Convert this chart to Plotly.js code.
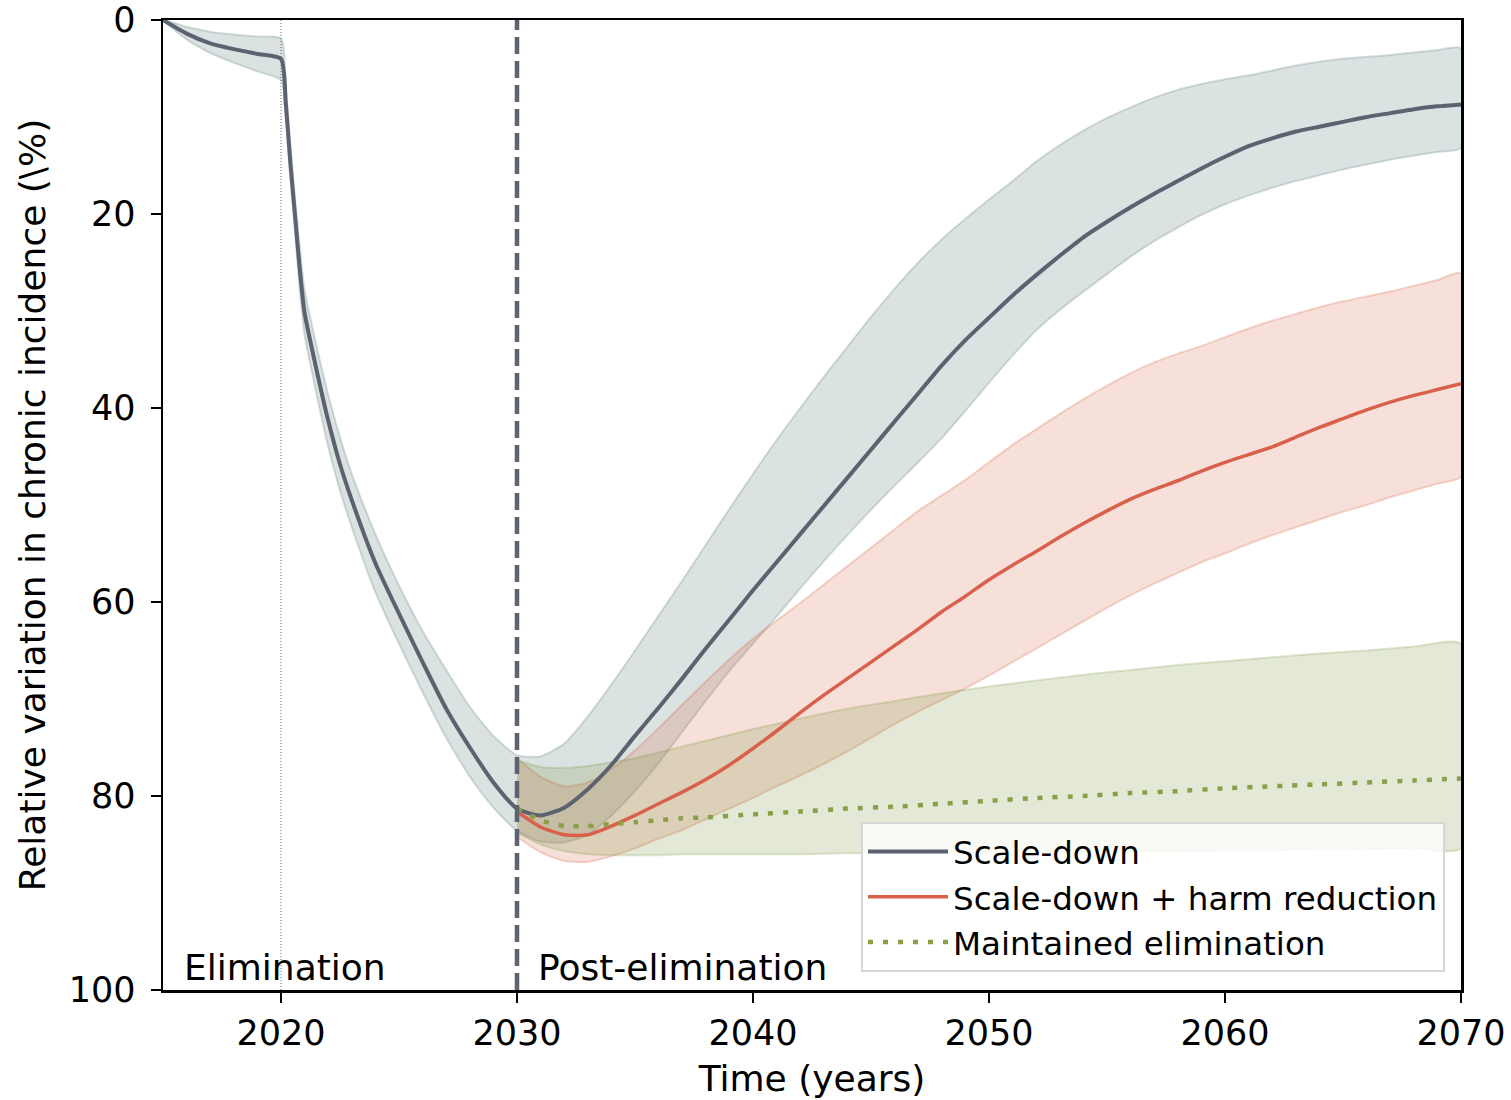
<!DOCTYPE html>
<html>
<head>
<meta charset="utf-8">
<script src="https://cdn.plot.ly/plotly-3.0.1.min.js"></script>
<style>
  html, body { margin: 0; padding: 0; background: #ffffff; }
  #chart { width: 1511px; height: 1100px; }
</style>
</head>
<body>
<div id="chart"></div>
<script>
// ---------- Data ----------
// Scale-down: 2015-2070 (irregular sampling around the 2020 drop)
const sdYears = [2015, 2016, 2017, 2018, 2019, 2020, 2020.2, 2020.4, 2020.6, 2020.8,
  2021, 2021.5, 2022, 2022.5, 2023, 2024, 2025, 2026, 2027, 2028, 2029, 2030,
  2031, 2032, 2033, 2034, 2035, 2036, 2037, 2038, 2039, 2040,
  2041, 2042, 2043, 2044, 2045, 2046, 2047, 2048, 2049, 2050,
  2051, 2052, 2053, 2054, 2055, 2056, 2057, 2058, 2059, 2060,
  2061, 2062, 2063, 2064, 2065, 2066, 2067, 2068, 2069, 2070];
const sdMean = [0, 1.4, 2.4, 3.0, 3.5, 4.0, 8.5, 14.8, 20.3, 25.8,
  30.2, 36.0, 41.3, 45.8, 49.5, 56.0, 61.2, 66.2, 71.0, 75.0, 78.6, 81.3,
  82.0, 81.2, 79.3, 76.8, 73.8, 70.9, 67.9, 64.8, 61.8, 58.8,
  55.9, 53.0, 50.1, 47.2, 44.3, 41.4, 38.5, 35.6, 33.0, 30.7,
  28.4, 26.3, 24.3, 22.4, 20.8, 19.3, 17.9, 16.6, 15.3, 14.1,
  13.0, 12.2, 11.5, 11.0, 10.5, 10.0, 9.6, 9.2, 8.9, 8.7];
const sdLow = [0, 0.7, 1.2, 1.5, 1.7, 1.9, 6.8, 13.0, 18.5, 23.5,
  27.8, 33.5, 38.6, 43.0, 46.8, 53.0, 58.3, 63.0, 67.0, 70.8, 73.8, 75.8,
  75.9, 74.6, 71.8, 68.5, 65.0, 61.4, 57.8, 54.1, 50.4, 46.8,
  43.3, 40.0, 36.8, 33.7, 30.6, 27.7, 25.0, 22.6, 20.5, 18.5,
  16.6, 14.6, 12.9, 11.4, 10.1, 9.0, 8.0, 7.2, 6.6, 6.1,
  5.7, 5.2, 4.7, 4.3, 4.0, 3.8, 3.6, 3.35, 3.1, 2.9];
const sdHigh = [0, 2.0, 3.4, 4.4, 5.3, 6.2, 10.2, 16.5, 22.2, 28.0,
  32.5, 38.5, 44.0, 48.5, 52.3, 59.0, 64.3, 69.3, 74.0, 78.0, 81.2, 83.6,
  84.7, 84.8, 84.0, 82.0, 79.5, 76.6, 73.4, 70.2, 67.1, 64.3,
  61.5, 58.6, 55.8, 53.1, 50.5, 48.0, 45.6, 43.1, 40.3, 37.4,
  34.6, 32.0, 29.9, 28.0, 26.2, 24.4, 22.8, 21.4, 20.1, 19.0,
  18.1, 17.3, 16.6, 16.0, 15.4, 14.9, 14.4, 14.0, 13.6, 13.2];

// Scale-down + harm reduction: 2030-2070
const hrYears = [2030, 2031, 2032, 2033, 2034, 2035, 2036, 2037, 2038, 2039,
  2040, 2041, 2042, 2043, 2044, 2045, 2046, 2047, 2048, 2049,
  2050, 2051, 2052, 2053, 2054, 2055, 2056, 2057, 2058, 2059,
  2060, 2061, 2062, 2063, 2064, 2065, 2066, 2067, 2068, 2069, 2070];
const hrMean = [81.6, 83.2, 84.0, 84.0, 83.1, 82.0, 80.8, 79.6, 78.3, 76.8,
  75.1, 73.3, 71.4, 69.6, 67.9, 66.2, 64.5, 62.8, 61.0, 59.4,
  57.7, 56.2, 54.8, 53.3, 51.9, 50.6, 49.4, 48.4, 47.5, 46.5,
  45.6, 44.8, 44.0, 43.0, 42.0, 41.1, 40.2, 39.4, 38.7, 38.1, 37.5];
const hrLow = [76.1, 78.0, 79.0, 78.6, 77.2, 75.3, 73.0, 70.6, 68.2, 65.9,
  63.8, 61.9, 60.1, 58.2, 56.3, 54.4, 52.5, 50.6, 49.0, 47.4,
  45.6, 43.8, 42.2, 40.6, 39.1, 37.7, 36.4, 35.3, 34.4, 33.6,
  32.7, 31.8, 31.0, 30.3, 29.6, 29.0, 28.5, 28.0, 27.4, 26.8, 26.1];
const hrHigh = [84.2, 85.8, 86.7, 86.8, 86.2, 85.4, 84.4, 83.5, 82.4, 81.3,
  80.2, 79.0, 77.9, 76.7, 75.4, 74.0, 72.6, 71.3, 70.1, 68.9,
  67.6, 66.2, 64.8, 63.4, 62.0, 60.6, 59.3, 58.1, 57.0, 55.9,
  55.0, 54.0, 53.1, 52.3, 51.5, 50.7, 50.0, 49.2, 48.5, 47.8, 47.1];

// Maintained elimination: 2030-2070
const meYears = [2030, 2031, 2032, 2033, 2034, 2035, 2036, 2037, 2038, 2040,
  2042, 2044, 2046, 2048, 2050, 2052, 2054, 2056, 2058, 2060,
  2062, 2064, 2066, 2068, 2070];
const meMean = [81.3, 82.5, 83.1, 83.1, 82.9, 82.7, 82.5, 82.3, 82.2, 81.9,
  81.6, 81.3, 81.1, 80.8, 80.5, 80.2, 80.0, 79.7, 79.5, 79.2,
  79.0, 78.8, 78.6, 78.4, 78.2];
const meLow = [76.3, 77.0, 77.1, 76.9, 76.5, 76.1, 75.5, 74.9, 74.3, 73.1,
  72.0, 71.0, 70.2, 69.4, 68.7, 68.1, 67.5, 67.0, 66.5, 66.1,
  65.7, 65.3, 65.0, 64.6, 64.3];
const meHigh = [83.8, 85.0, 85.7, 86.0, 86.1, 86.1, 86.1, 86.0, 86.0, 86.0,
  86.0, 85.9, 85.9, 85.8, 85.8, 85.8, 85.7, 85.7, 85.7, 85.6,
  85.6, 85.5, 85.5, 85.4, 85.4];

const seriesNames = ["Scale-down", "Scale-down + harm reduction", "Maintained elimination"];
const phaseYears = [2020, 2030];
const phaseLabels = ["Elimination", "Post-elimination"];
const xTicks = [2020, 2030, 2040, 2050, 2060, 2070];
const yTicks = [0, 20, 40, 60, 80, 100];

// ---------- Styles ----------
const FONT = "DejaVu Sans, Liberation Sans, sans-serif";
const colGray = "#5d6270";
const colRed = "#d9604a";
const colGreen = "#8a9f47";
const SMOOTH = 0.6;

function band(x, lo, hi, fill, edge) {
  return {
    x: x.concat(x.slice().reverse()),
    y: hi.concat(lo.slice().reverse()),
    type: "scatter", mode: "lines", fill: "toself",
    fillcolor: fill, line: { color: edge, width: 2, shape: "spline", smoothing: SMOOTH },
    hoverinfo: "skip", showlegend: false
  };
}

const traces = [
  band(sdYears, sdLow, sdHigh, "rgba(75,110,110,0.20)", "rgba(75,110,110,0.22)"),
  band(hrYears, hrLow, hrHigh, "rgba(215,100,65,0.20)", "rgba(215,100,65,0.25)"),
  band(meYears, meLow, meHigh, "rgba(120,145,55,0.20)", "rgba(120,145,55,0.22)"),
  { x: sdYears, y: sdMean, type: "scatter", mode: "lines", name: seriesNames[0],
    line: { color: colGray, width: 4, shape: "spline", smoothing: SMOOTH } },
  { x: hrYears, y: hrMean, type: "scatter", mode: "lines", name: seriesNames[1],
    line: { color: colRed, width: 3.5, shape: "spline", smoothing: SMOOTH } },
  { x: meYears, y: meMean, type: "scatter", mode: "lines", name: seriesNames[2],
    line: { color: colGreen, width: 4.5, dash: "5px,10px", shape: "spline", smoothing: SMOOTH } }
];

const layout = {
  width: 1511, height: 1100,
  margin: { l: 163, r: 50, t: 20, b: 110 },
  paper_bgcolor: "#ffffff", plot_bgcolor: "#ffffff",
  font: { family: FONT, color: "#000000", size: 35 },
  showlegend: true,
  legend: {
    x: 0.9877, y: 0.0186, xanchor: "right", yanchor: "bottom",
    bgcolor: "rgba(255,255,255,0.8)", bordercolor: "#d6d6d6", borderwidth: 2,
    font: { family: FONT, size: 32.5, color: "#000000" },
    itemwidth: 80, traceorder: "normal"
  },
  xaxis: {
    range: [2015, 2070], tickvals: xTicks, ticktext: xTicks.map(String),
    ticks: "outside", ticklen: 10, tickwidth: 2, tickcolor: "#000",
    showline: true, linewidth: 2.5, linecolor: "#000", mirror: true,
    showgrid: false, zeroline: false,
    tickfont: { family: FONT, size: 35, color: "#000" },
    title: { text: "Time (years)", font: { family: FONT, size: 36, color: "#000" }, standoff: 15 }
  },
  yaxis: {
    range: [100, 0], tickvals: yTicks, ticktext: yTicks.map(String),
    ticks: "outside", ticklen: 10, tickwidth: 2, tickcolor: "#000",
    ticklabelstandoff: 8,
    showline: true, linewidth: 2.5, linecolor: "#000", mirror: true,
    showgrid: false, zeroline: false,
    tickfont: { family: FONT, size: 35, color: "#000" },
    title: { text: "Relative variation in chronic incidence (\\%)", font: { family: FONT, size: 36, color: "#000" }, standoff: 12 }
  },
  shapes: [
    { type: "line", xref: "x", yref: "paper", x0: phaseYears[0], x1: phaseYears[0], y0: 0, y1: 1,
      line: { color: "#666", width: 1, dash: "1px,2px" }, layer: "above" },
    { type: "line", xref: "x", yref: "paper", x0: phaseYears[1], x1: phaseYears[1], y0: 0, y1: 1,
      line: { color: colGray, width: 4.5, dash: "17px,7px" }, layer: "above" }
  ],
  annotations: [
    { xref: "x", yref: "y", x: phaseYears[0] - 4.2, y: 97.7, text: phaseLabels[0],
      xanchor: "left", yanchor: "middle", showarrow: false,
      font: { family: FONT, size: 36, color: "#000" } },
    { xref: "x", yref: "y", x: phaseYears[1] + 0.8, y: 97.7, text: phaseLabels[1],
      xanchor: "left", yanchor: "middle", showarrow: false,
      font: { family: FONT, size: 36, color: "#000" } }
  ]
};

Plotly.newPlot("chart", traces, layout, { displayModeBar: false, staticPlot: true });
</script>
</body>
</html>
